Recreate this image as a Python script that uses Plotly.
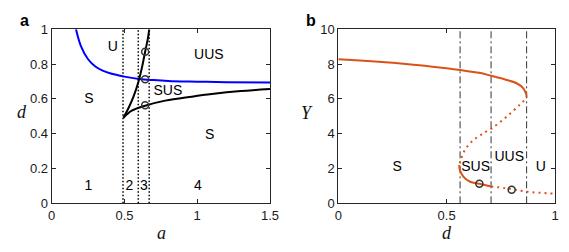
import plotly.graph_objects as go

# ---------------- data: panel a ----------------
blue_a = [0.167, 0.2, 0.25, 0.3, 0.35, 0.4, 0.5, 0.6, 0.7, 0.8, 1.0, 1.2, 1.5]
blue_d = [1.0, 0.905, 0.828, 0.786, 0.762, 0.747, 0.728, 0.715, 0.708, 0.703, 0.699, 0.696, 0.694]

up_a = [0.493, 0.527, 0.562, 0.596, 0.619, 0.642, 0.661, 0.670]
up_d = [0.492, 0.546, 0.613, 0.699, 0.776, 0.871, 0.948, 1.0]

low_a = [0.493, 0.55, 0.642, 0.78, 0.963, 1.10, 1.3, 1.5]
low_d = [0.492, 0.532, 0.561, 0.590, 0.613, 0.628, 0.645, 0.657]

bound_a = [0.49, 0.595, 0.67]

circ_a = [0.642, 0.642, 0.642]
circ_d = [0.871, 0.713, 0.563]

lab_a_text = ["U", "UUS", "SUS", "S", "S", "1", "2", "3", "4"]
lab_a_x = [0.42, 1.08, 0.798, 0.255, 1.085, 0.252, 0.534, 0.633, 1.005]
lab_a_y = [0.898, 0.847, 0.644, 0.595, 0.39, 0.094, 0.094, 0.094, 0.094]

xa_ticks = [0, 0.5, 1, 1.5]
xa_text = ["0", "0.5", "1", "1.5"]
ya_ticks = [0, 0.2, 0.4, 0.6, 0.8, 1]
ya_text = ["0", "0.2", "0.4", "0.6", "0.8", "1"]

# ---------------- data: panel b ----------------
hi_d = [0.0, 0.1, 0.2, 0.3, 0.4, 0.5, 0.562, 0.65, 0.705, 0.777, 0.823, 0.854, 0.869]
hi_Y = [8.28, 8.2, 8.12, 8.02, 7.9, 7.76, 7.66, 7.5, 7.33, 7.09, 6.9, 6.61, 6.2]

mid_d = [0.869, 0.866, 0.84, 0.777, 0.708, 0.66, 0.615, 0.584, 0.565, 0.558]
mid_Y = [6.2, 6.03, 5.7, 4.98, 4.31, 3.95, 3.54, 3.06, 2.49, 2.2]

lo_d = [0.558, 0.561, 0.577, 0.608, 0.651, 0.705]
lo_Y = [2.2, 1.91, 1.53, 1.24, 1.12, 0.97]

tail_d = [0.705, 0.777, 0.869, 1.0]
tail_Y = [0.97, 0.86, 0.67, 0.55]

bound_d = [0.562, 0.705, 0.869]

circ_bd = [0.651, 0.80]
circ_bY = [1.13, 0.78]

lab_b_text = ["S", "SUS", "UUS", "U"]
lab_b_x = [0.272, 0.634, 0.789, 0.934]
lab_b_y = [2.03, 2.03, 2.64, 2.03]

xb_ticks = [0, 0.5, 1]
xb_text = ["0", "0.5", "1"]
yb_ticks = [0, 2, 4, 6, 8, 10]
yb_text = ["0", "2", "4", "6", "8", "10"]

# ---------------- figure ----------------
OFF = 8  # default page body margin
W, H = 569 - 2 * OFF, 252 - 2 * OFF
AX = "#262626"
ORANGE = "#D95319"
SANS = "Liberation Sans, Arial, sans-serif"
SERIF = "Liberation Serif, Times New Roman, serif"

fig = go.Figure()

# panel a
for x0 in bound_a:
    fig.add_trace(go.Scatter(x=[x0, x0], y=[0, 1], mode="lines",
                             line=dict(color="black", width=1.5, dash="1.5px,2px"),
                             xaxis="x", yaxis="y"))
fig.add_trace(go.Scatter(x=blue_a, y=blue_d, mode="lines", line=dict(color="#0000FF", width=2, shape="spline"),
                         xaxis="x", yaxis="y"))
fig.add_trace(go.Scatter(x=up_a, y=up_d, mode="lines", line=dict(color="black", width=2, shape="spline"),
                         xaxis="x", yaxis="y"))
fig.add_trace(go.Scatter(x=low_a, y=low_d, mode="lines", line=dict(color="black", width=2, shape="spline"),
                         xaxis="x", yaxis="y"))
fig.add_trace(go.Scatter(x=circ_a, y=circ_d, mode="markers",
                         marker=dict(symbol="circle-open", size=7, color="#333", line=dict(width=1.5)),
                         xaxis="x", yaxis="y"))
fig.add_trace(go.Scatter(x=lab_a_x, y=lab_a_y, mode="text", text=lab_a_text,
                         textfont=dict(family=SANS, size=14, color="black"),
                         xaxis="x", yaxis="y"))

# panel b
for x0 in bound_d:
    fig.add_trace(go.Scatter(x=[x0, x0], y=[0, 10], mode="lines",
                             line=dict(color="#333", width=1, dash="7px,3px,2px,3px"),
                             xaxis="x2", yaxis="y2"))
fig.add_trace(go.Scatter(x=hi_d, y=hi_Y, mode="lines", line=dict(color=ORANGE, width=2, shape="spline"),
                         xaxis="x2", yaxis="y2"))
fig.add_trace(go.Scatter(x=mid_d, y=mid_Y, mode="lines",
                         line=dict(color=ORANGE, width=2, shape="spline", dash="2px,4px"),
                         xaxis="x2", yaxis="y2"))
fig.add_trace(go.Scatter(x=lo_d, y=lo_Y, mode="lines", line=dict(color=ORANGE, width=2, shape="spline"),
                         xaxis="x2", yaxis="y2"))
fig.add_trace(go.Scatter(x=tail_d, y=tail_Y, mode="lines",
                         line=dict(color=ORANGE, width=2, shape="spline", dash="2px,4px"),
                         xaxis="x2", yaxis="y2"))
fig.add_trace(go.Scatter(x=circ_bd, y=circ_bY, mode="markers",
                         marker=dict(symbol="circle-open", size=7, color="#333", line=dict(width=1.5)),
                         xaxis="x2", yaxis="y2"))
fig.add_trace(go.Scatter(x=lab_b_x, y=lab_b_y, mode="text", text=lab_b_text,
                         textfont=dict(family=SANS, size=14, color="black"),
                         xaxis="x2", yaxis="y2"))


def px_x(p):
    return (p - OFF) / W


def px_y(p):
    return 1 - (p - OFF) / H


ydom = [px_y(203.3), px_y(29.3)]
common = dict(showline=True, linecolor=AX, linewidth=1, mirror="ticks", ticks="inside",
              ticklen=4, tickcolor=AX, showgrid=False, zeroline=False, automargin=False,
              tickfont=dict(family=SANS, size=13, color="#1a1a1a"), fixedrange=True)

fig.update_layout(
    width=W, height=H, autosize=False,
    margin=dict(l=0, r=0, t=0, b=0, pad=0),
    paper_bgcolor="white", plot_bgcolor="white",
    showlegend=False, hovermode=False,
    xaxis=dict(domain=[px_x(51.7), px_x(270)], range=[0, 1.5], tickvals=xa_ticks, ticktext=xa_text,
               anchor="y", **common),
    yaxis=dict(domain=ydom, range=[0, 1], tickvals=ya_ticks, ticktext=ya_text, anchor="x", **common),
    xaxis2=dict(domain=[px_x(338.3), px_x(555)], range=[0, 1], tickvals=xb_ticks, ticktext=xb_text,
                anchor="y2", **common),
    yaxis2=dict(domain=ydom, range=[0, 10], tickvals=yb_ticks, ticktext=yb_text, anchor="x2", **common),
)


def ann(px, py, text, font):
    fig.add_annotation(x=px_x(px), y=px_y(py), xref="paper", yref="paper", text=text,
                       showarrow=False, font=font, xanchor="center", yanchor="middle", borderpad=0)


ann(24, 21, "<b>a</b>", dict(family=SANS, size=16, color="black"))
ann(311, 21, "<b>b</b>", dict(family=SANS, size=16, color="black"))
ann(161.5, 233, "<i>a</i>", dict(family=SERIF, size=18, color="#111"))
ann(22, 112, "<i>d</i>", dict(family=SERIF, size=18, color="#111"))
ann(446.7, 233, "<i>d</i>", dict(family=SERIF, size=18, color="#111"))
ann(306.7, 113, "<i>Y</i>", dict(family=SERIF, size=18, color="#111"))

fig.write_html("out.html", config=dict(displayModeBar=False, staticPlot=True))
